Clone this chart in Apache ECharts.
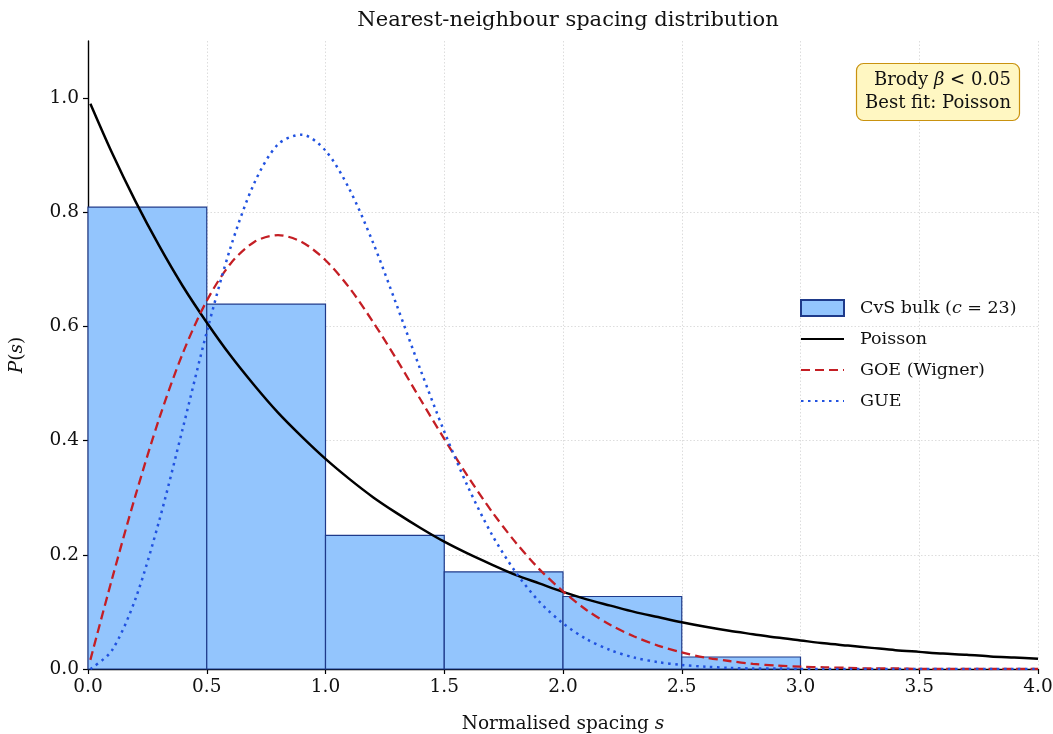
<!DOCTYPE html>
<html>
<head>
<meta charset="utf-8">
<title>Nearest-neighbour spacing distribution</title>
<script src="https://cdn.jsdelivr.net/npm/echarts@6/dist/echarts.min.js"></script>
<style>
  html, body { margin: 0; padding: 0; background: #ffffff; }
  #chart { width: 1053px; height: 734px; }
</style>
</head>
<body>
<div id="chart"></div>
<script>
// Histogram of normalised spacings: bin edges and densities
const binStarts = [0.0, 0.5, 1.0, 1.5, 2.0, 2.5, 3.0, 3.5];
const binEnds   = [0.5, 1.0, 1.5, 2.0, 2.5, 3.0, 3.5, 4.0];
const binDensity = [0.809, 0.639, 0.234, 0.170, 0.127, 0.021, 0.0, 0.0];

// Sample points of the reference curves
const sValues = [0.01, 0.1, 0.2, 0.3, 0.4, 0.5, 0.6, 0.7, 0.8, 0.9, 1.0,
  1.1, 1.2, 1.3, 1.4, 1.5, 1.6, 1.7, 1.8, 1.9, 2.0,
  2.1, 2.2, 2.3, 2.4, 2.5, 2.6, 2.7, 2.8, 2.9, 3.0,
  3.1, 3.2, 3.3, 3.4, 3.5, 3.6, 3.7, 3.8, 3.9, 4.0];
const poissonValues = [0.990, 0.905, 0.819, 0.741, 0.670, 0.607, 0.549, 0.497, 0.449, 0.407, 0.368,
  0.333, 0.301, 0.273, 0.247, 0.223, 0.202, 0.183, 0.165, 0.150, 0.135,
  0.122, 0.111, 0.100, 0.091, 0.082, 0.074, 0.067, 0.061, 0.055, 0.050,
  0.045, 0.041, 0.037, 0.033, 0.030, 0.027, 0.025, 0.022, 0.020, 0.018];
const goeValues = [0.016, 0.156, 0.304, 0.439, 0.554, 0.645, 0.710, 0.748, 0.760, 0.748, 0.716,
  0.668, 0.608, 0.542, 0.472, 0.403, 0.337, 0.276, 0.222, 0.175, 0.136,
  0.103, 0.077, 0.057, 0.041, 0.029, 0.020, 0.014, 0.009, 0.006, 0.004,
  0.003, 0.002, 0.001, 0.001, 0.000, 0.000, 0.000, 0.000, 0.000, 0.000];
const gueValues = [0.000, 0.032, 0.123, 0.260, 0.423, 0.590, 0.738, 0.851, 0.919, 0.936, 0.908,
  0.841, 0.747, 0.637, 0.524, 0.416, 0.319, 0.236, 0.170, 0.118, 0.080,
  0.052, 0.033, 0.020, 0.012, 0.007, 0.004, 0.002, 0.001, 0.001, 0.000,
  0.000, 0.000, 0.000, 0.000, 0.000, 0.000, 0.000, 0.000, 0.000, 0.000];

const xTicks = [0.0, 0.5, 1.0, 1.5, 2.0, 2.5, 3.0, 3.5, 4.0];
const yTicks = [0.0, 0.2, 0.4, 0.6, 0.8, 1.0];

const FONT = 'DejaVu Serif';
const TICK_SIZE = 18.5;
const LABEL_SIZE = 18.5;
const italic = { fontFamily: FONT, fontStyle: 'italic' };

const histData = binStarts.map((s, i) => [s, binEnds[i], binDensity[i]]);
const pairs = vals => sValues.map((s, i) => [s, vals[i]]);

const chart = echarts.init(document.getElementById('chart'), null, { renderer: 'canvas' });

chart.setOption({
  backgroundColor: '#ffffff',
  animation: false,
  textStyle: { fontFamily: FONT, color: '#111' },
  title: [
    {
      text: 'Nearest-neighbour spacing distribution',
      left: 563, top: 5, textAlign: 'center',
      textStyle: { fontFamily: FONT, fontWeight: 'normal', fontSize: 21, color: '#111' }
    },
    {
      text: 'Brody {i|β}{n| < 0.05}\nBest fit: Poisson',
      left: 1002, top: 63,
      textAlign: 'right',
      backgroundColor: '#fff7c2',
      borderColor: '#c9920f',
      borderWidth: 1.2,
      borderRadius: 7,
      padding: [6, 9, 6, 9],
      textStyle: {
        fontFamily: FONT, fontWeight: 'normal', fontSize: 18, lineHeight: 23, color: '#111',
        rich: {
          i: { fontFamily: FONT, fontStyle: 'italic', fontSize: 18, lineHeight: 23 },
          n: { fontFamily: FONT, fontSize: 18, lineHeight: 23 }
        }
      }
    }
  ],
  grid: { left: 88, right: 15, top: 41, bottom: 65, containLabel: false, outerBoundsMode: 'none' },
  legend: {
    orient: 'vertical',
    left: 800, top: 299, padding: 0,
    itemWidth: 43, itemHeight: 16, itemGap: 13,
    textStyle: {
      fontFamily: FONT, fontSize: 17.5, color: '#111', padding: [0, 0, 0, 11],
      rich: { i: { fontFamily: FONT, fontStyle: 'italic', fontSize: 17.5 } }
    },
    formatter: name => name === 'CvS bulk' ? 'CvS bulk ({i|c} = 23)' : name,
    data: [
      { name: 'CvS bulk', icon: 'rect' },
      { name: 'Poisson' },
      { name: 'GOE (Wigner)' },
      { name: 'GUE' }
    ]
  },
  xAxis: {
    type: 'value', min: 0, max: 4, interval: 0.5,
    name: 'Normalised spacing {i|s}',
    nameLocation: 'middle', nameGap: 46,
    nameTextStyle: { fontFamily: FONT, fontSize: LABEL_SIZE, color: '#111', rich: { i: Object.assign({ fontSize: LABEL_SIZE }, italic) } },
    axisLine: { onZero: false, lineStyle: { color: '#000', width: 1.4 } },
    axisTick: { show: true, inside: false, length: 5, lineStyle: { color: '#000', width: 1.2 }, customValues: xTicks },
    axisLabel: { fontFamily: FONT, fontSize: TICK_SIZE, color: '#111', margin: 9, customValues: xTicks, formatter: v => v.toFixed(1) },
    splitLine: { show: true, lineStyle: { color: '#d4d4d4', width: 0.8, type: [1.5, 2] } }
  },
  yAxis: {
    type: 'value', min: 0, max: 1.1, interval: 0.2,
    name: '{i|P}({i|s})',
    nameLocation: 'middle', nameGap: 61, nameRotate: 90,
    nameTextStyle: { fontFamily: FONT, fontSize: LABEL_SIZE, color: '#111', rich: { i: Object.assign({ fontSize: LABEL_SIZE }, italic) } },
    axisLine: { show: true, onZero: false, lineStyle: { color: '#000', width: 1.4 } },
    axisTick: { show: true, inside: false, length: 5, lineStyle: { color: '#000', width: 1.2 }, customValues: yTicks },
    axisLabel: { fontFamily: FONT, fontSize: TICK_SIZE, color: '#111', margin: 9, customValues: yTicks, formatter: v => v.toFixed(1) },
    splitLine: { show: true, showMaxLine: false, lineStyle: { color: '#d4d4d4', width: 0.8, type: [1.5, 2] } }
  },
  series: [
    {
      name: 'CvS bulk',
      type: 'custom',
      itemStyle: { color: '#93c5fd', borderColor: '#1e3a8a', borderWidth: 1.2 },
      encode: { x: [0, 1], y: 2 },
      data: histData,
      z: 1,
      renderItem: (params, api) => {
        const v = api.value(2);
        if (!(v > 0)) return null;
        const p0 = api.coord([api.value(0), 0]);
        const p1 = api.coord([api.value(1), v]);
        return {
          type: 'rect',
          shape: { x: p0[0], y: p1[1], width: p1[0] - p0[0], height: p0[1] - p1[1] },
          style: { fill: '#93c5fd', stroke: '#1e3a8a', lineWidth: 1.2 }
        };
      }
    },
    {
      name: 'Poisson', type: 'line', data: pairs(poissonValues),
      smooth: 0.3, symbol: 'none', z: 3,
      lineStyle: { color: '#000000', width: 2.5 },
      itemStyle: { color: 'rgba(0,0,0,0)' }
    },
    {
      name: 'GOE (Wigner)', type: 'line', data: pairs(goeValues),
      smooth: 0.3, symbol: 'none', z: 3,
      lineStyle: { color: '#c41e24', width: 2.3, type: [9, 5] },
      itemStyle: { color: 'rgba(0,0,0,0)' }
    },
    {
      name: 'GUE', type: 'line', data: pairs(gueValues),
      smooth: 0.3, symbol: 'none', z: 3,
      lineStyle: { color: '#2152e0', width: 2.5, type: [2.5, 4.5] },
      itemStyle: { color: 'rgba(0,0,0,0)' }
    }
  ]
});
</script>
</body>
</html>
